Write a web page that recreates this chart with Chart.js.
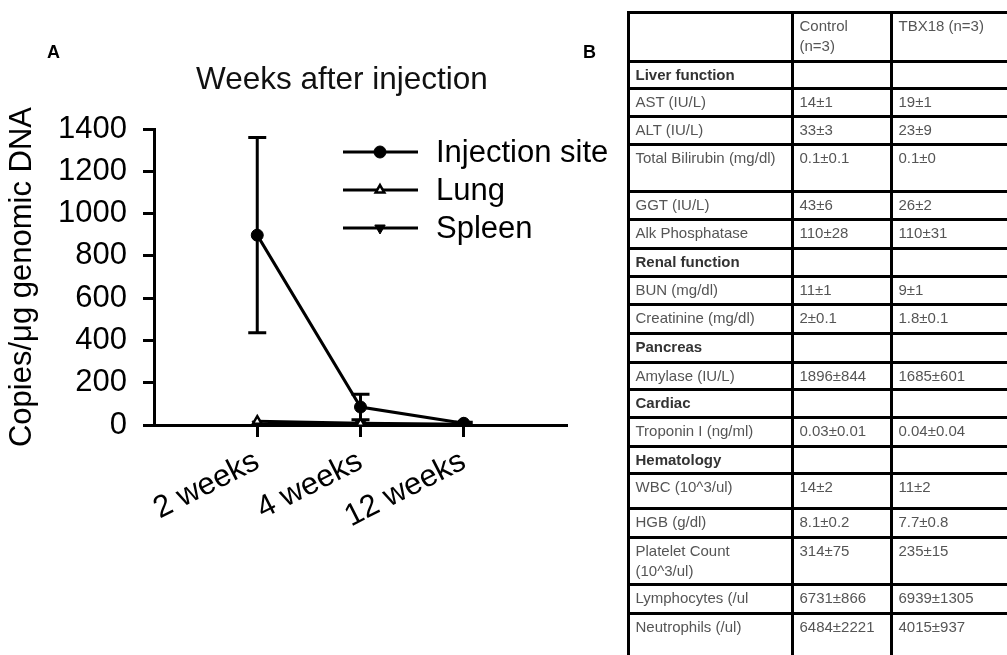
<!DOCTYPE html>
<html>
<head>
<meta charset="utf-8">
<script src="https://cdn.jsdelivr.net/npm/chart.js@4.4.1/dist/chart.umd.min.js"></script>
<style>
  body { margin: 0; background: #fff; font-family: 'Liberation Sans', Arial, sans-serif; }
  #wrap { position: relative; width: 1007px; height: 655px; overflow: hidden; }
  #chartA { position: absolute; left: 0; top: 0; }
  .panel { position: absolute; font-weight: bold; font-size: 18px; line-height: 20px; }
  #titleA { position: absolute; left: 196px; top: 60px; font-size: 31.5px; line-height: 36px; white-space: nowrap; color: #111; }
  .cell {
    position: absolute; box-sizing: border-box; border: 3px solid #000;
    padding: 2px 0 0 6px; font-size: 15px; line-height: 20px; color: #555;
    white-space: nowrap; overflow: hidden;
  }
  .cell.sec { font-weight: bold; color: #333; }
</style>
</head>
<body>
<div id="wrap">
  <canvas id="chartA" width="625" height="655"></canvas>
  <div class="panel" style="left:47px;top:42px">A</div>
  <div class="panel" style="left:583px;top:42px">B</div>
  <div id="titleA">Weeks after injection</div>
  <div id="tableB"></div>
</div>
<script>
// ── PANEL A DATA ───────────────────────────────────────────────────────────
const weeks        = ['2 weeks', '4 weeks', '12 weeks'];
const seriesNames  = ['Injection site', 'Lung', 'Spleen'];
const injection    = [898, 85, 8];
const injectionErr = [462, 60, 5];
const lung         = [18, 8, 3];
const lungErr      = [0, 0, 0];
const spleen       = [4, 2, 1];
const spleenErr    = [0, 0, 0];
const yTicks       = [0, 200, 400, 600, 800, 1000, 1200, 1400];

// ── PANEL B DATA ───────────────────────────────────────────────────────────
const colHeaders  = ['', 'Control\n(n=3)', 'TBX18 (n=3)'];
const rowLabels   = ['Liver function', 'AST (IU/L)', 'ALT (IU/L)', 'Total Bilirubin (mg/dl)', 'GGT (IU/L)',
                     'Alk Phosphatase', 'Renal function', 'BUN (mg/dl)', 'Creatinine (mg/dl)', 'Pancreas',
                     'Amylase (IU/L)', 'Cardiac', 'Troponin I (ng/ml)', 'Hematology', 'WBC (10^3/ul)',
                     'HGB (g/dl)', 'Platelet Count\n(10^3/ul)', 'Lymphocytes (/ul', 'Neutrophils (/ul)'];
const controlVals = ['', '14±1', '33±3', '0.1±0.1', '43±6', '110±28', '', '11±1', '2±0.1', '',
                     '1896±844', '', '0.03±0.01', '', '14±2', '8.1±0.2', '314±75', '6731±866', '6484±2221'];
const tbx18Vals   = ['', '19±1', '23±9', '0.1±0', '26±2', '110±31', '', '9±1', '1.8±0.1', '',
                     '1685±601', '', '0.04±0.04', '', '11±2', '7.7±0.8', '235±15', '6939±1305', '4015±937'];
const sectionRows = ['Liver function', 'Renal function', 'Pancreas', 'Cardiac', 'Hematology'];

// table grid lines (layout only)
const colX = [628, 792, 891, 1030];
const rowY = [12, 61, 88, 116, 144, 191, 219, 248, 276, 304, 333, 362, 389, 417, 446, 473, 508, 537, 584, 613, 680];

function buildTable() {
  const host = document.getElementById('tableB');
  const rows = [colHeaders].concat(rowLabels.map((l, i) => [l, controlVals[i], tbx18Vals[i]]));
  rows.forEach((r, ri) => {
    r.forEach((txt, ci) => {
      const d = document.createElement('div');
      d.className = 'cell' + (ci === 0 && sectionRows.includes(txt) ? ' sec' : '');
      d.style.left   = (colX[ci] - 1.5) + 'px';
      d.style.top    = (rowY[ri] - 1.5) + 'px';
      d.style.width  = (colX[ci + 1] - colX[ci] + 3) + 'px';
      d.style.height = (rowY[ri + 1] - rowY[ri] + 3) + 'px';
      d.innerHTML = txt.split('\n').join('<br>');
      host.appendChild(d);
    });
  });
}
buildTable();

// ── CHART ──────────────────────────────────────────────────────────────────
const FONT = "'Liberation Sans', Arial, sans-serif";
const toPts = arr => arr.map((v, i) => ({ x: i + 1, y: v }));

const markers = [
  { pointStyle: 'circle',   rotation: 0,   radius: 6, bg: '#000', bw: 1 },
  { pointStyle: 'triangle', rotation: 0,   radius: 5, bg: '#fff', bw: 2.5 },
  { pointStyle: 'triangle', rotation: 180, radius: 6, bg: '#000', bw: 1 }
];
const values = [injection, lung, spleen];
const errs   = [injectionErr, lungErr, spleenErr];

const datasets = seriesNames.map((name, i) => ({
  label: name,
  data: toPts(values[i]),
  err: errs[i],
  borderColor: '#000',
  borderWidth: 3,
  pointStyle: markers[i].pointStyle,
  rotation: markers[i].rotation,
  pointRadius: markers[i].radius,
  pointBackgroundColor: markers[i].bg,
  pointBorderColor: '#000',
  pointBorderWidth: markers[i].bw,
  tension: 0
}));

const errorBars = {
  id: 'errorBars',
  beforeDatasetsDraw(chart) {
    const { ctx, scales: { x, y } } = chart;
    ctx.save();
    ctx.strokeStyle = '#000';
    ctx.lineWidth = 3;
    chart.data.datasets.forEach(ds => {
      ds.data.forEach((p, i) => {
        const e = ds.err[i];
        if (!e) return;
        const px = x.getPixelForValue(p.x);
        const top = y.getPixelForValue(p.y + e);
        const bot = y.getPixelForValue(Math.max(p.y - e, 0));
        ctx.beginPath();
        ctx.moveTo(px, top); ctx.lineTo(px, bot);
        ctx.moveTo(px - 9, top); ctx.lineTo(px + 9, top);
        if (p.y - e > 0) { ctx.moveTo(px - 9, bot); ctx.lineTo(px + 9, bot); }
        ctx.stroke();
      });
    });
    ctx.restore();
  }
};

const legendRows = [152, 190, 228];
const customLegend = {
  id: 'customLegend',
  afterDraw(chart) {
    const { ctx } = chart;
    ctx.save();
    chart.data.datasets.forEach((ds, i) => {
      const yy = legendRows[i];
      ctx.strokeStyle = '#000';
      ctx.lineWidth = 3;
      ctx.beginPath(); ctx.moveTo(343, yy); ctx.lineTo(418, yy); ctx.stroke();
      ctx.fillStyle = markers[i].bg;
      ctx.lineWidth = markers[i].bw;
      Chart.helpers.drawPoint(ctx, {
        pointStyle: markers[i].pointStyle, rotation: markers[i].rotation,
        radius: markers[i].radius, borderWidth: markers[i].bw
      }, 380, yy);
      ctx.fillStyle = '#000';
      ctx.font = '31px ' + FONT;
      ctx.textBaseline = 'middle';
      ctx.textAlign = 'left';
      ctx.fillText(ds.label, 436, yy + 1);
    });
    ctx.restore();
  }
};

new Chart(document.getElementById('chartA'), {
  type: 'line',
  data: { datasets },
  options: {
    responsive: false,
    animation: false,
    devicePixelRatio: 1,
    layout: { padding: { left: 4, top: 129, right: 58, bottom: 0 } },
    plugins: { legend: { display: false }, tooltip: { enabled: false } },
    scales: {
      x: {
        type: 'linear', min: 0, max: 4,
        afterBuildTicks: axis => { axis.ticks = weeks.map((w, i) => ({ value: i + 1 })); },
        afterFit: s => { s.height = 230; },
        grid: { drawOnChartArea: false, tickLength: 12, tickWidth: 3, color: '#000' },
        border: { width: 3, color: '#000' },
        ticks: {
          autoSkip: false, minRotation: 27, maxRotation: 27, padding: 6, color: '#000',
          font: { size: 31, family: FONT },
          callback: (v) => weeks[v - 1] ?? ''
        }
      },
      y: {
        min: 0, max: 1400,
        afterBuildTicks: axis => { axis.ticks = yTicks.map(v => ({ value: v })); },
        afterFit: s => { s.width = 150; },
        grid: { drawOnChartArea: false, tickLength: 11, tickWidth: 3, color: '#000' },
        border: { width: 3, color: '#000' },
        ticks: { padding: 16, color: '#000', font: { size: 31, family: FONT }, callback: v => String(v) },
        title: { display: true, text: 'Copies/μg genomic DNA', color: '#000', font: { size: 31, family: FONT }, padding: 0 }
      }
    }
  },
  plugins: [errorBars, customLegend]
});
</script>
</body>
</html>
